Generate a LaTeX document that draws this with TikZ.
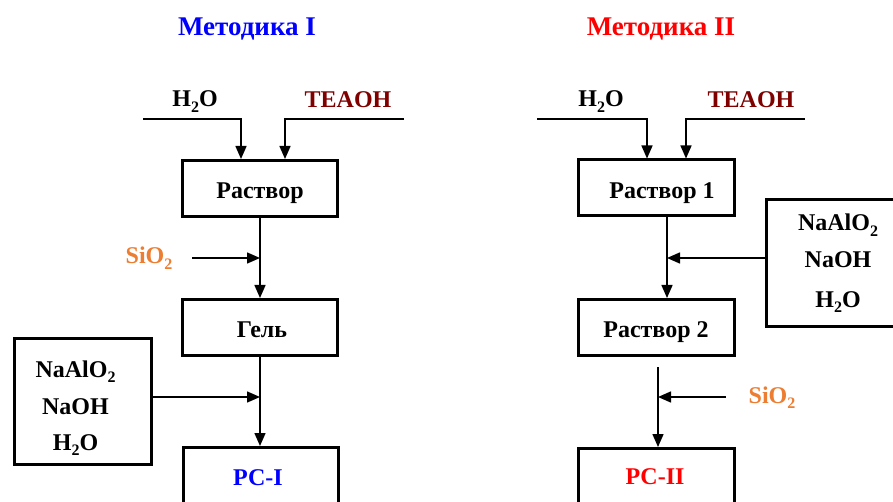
\documentclass[tikz,border=0pt]{standalone}
\usepackage{fontspec}
\setmainfont{Liberation Serif}
\usetikzlibrary{arrows.meta}
\definecolor{mblue}{RGB}{0,0,255}
\definecolor{mred}{RGB}{255,0,0}
\definecolor{mdark}{RGB}{128,0,0}
\definecolor{morange}{RGB}{237,125,49}
\newcommand\low[1]{\raisebox{-0.22em}{\fontsize{16}{16}\selectfont #1}}
\begin{document}
\begin{tikzpicture}[x=1pt,y=-1pt,
  box/.style={draw,line width=3pt,minimum width=155pt,minimum height=56pt,inner sep=0pt},
  sidebox/.style={draw,line width=3pt,inner sep=0pt},
  lbl/.style={font=\fontsize{24}{28}\selectfont\bfseries,anchor=base,inner sep=0pt},
  ttl/.style={font=\fontsize{27}{32}\selectfont\bfseries,anchor=base,inner sep=0pt},
  arr/.style={line width=1.5pt,-{Triangle[length=13pt,width=11pt]}},
  ln/.style={line width=1.5pt}]
\useasboundingbox (0,0) rectangle (893,502);
\fill[white] (0,0) rectangle (893,502);

% titles
\node[ttl,text=mblue] (t1) at (247,36) {Методика I};
\node[ttl,text=mred] (t2) at (661,36) {Методика II};

% ---------- Method I ----------
\node[box] (r) at (260,188.5) {};
\node[lbl] (rl) at (260,199) {Раствор};
\node[box] (g) at (260,327.5) {};
\node[lbl] (gl) at (262,337) {Гель};
\node[box] (pc1) at (261,475.5) {};
\node[lbl,text=mblue] (pc1l) at (258,485) {РС-I};
\node[sidebox,minimum width=137pt,minimum height=126pt] (lb) at (83,401.5) {};
\node[lbl] (lb1) at (75.5,377) {NaAlO\low{2}};
\node[lbl] (lb2) at (75.5,414) {NaOH};
\node[lbl] (lb3) at (75.5,450) {H\low{2}O};

\node[lbl] (h1) at (195,107) {H\low{2}O};
\node[lbl,text=mdark] (te1) at (348,108) {TEAOH};
\node[lbl,text=morange] (si1) at (149,264) {SiO\low{2}};

\coordinate (h1s) at (143,119);
\coordinate (h1c) at (241,119);
\coordinate (te1s) at (404,119);
\coordinate (te1c) at (285,119);
\draw[arr] (h1s) -- (h1c) -- (h1c |- r.north);
\draw[arr] (te1s) -- (te1c) -- (te1c |- r.north);
\draw[arr] (r.south) -- (g.north);
\coordinate (si1s) at (192,258);
\draw[arr] (si1s) -- (si1s -| r.south);
\draw[arr] (g.south) -- (g.south |- pc1.north);
\coordinate (y397) at (0,397);
\draw[arr] (lb.east |- y397) -- (g.south |- y397);

% ---------- Method II ----------
\node[box,minimum width=156pt] (r1) at (656.5,188) {};
\node[lbl] (r1l) at (662,199) {Раствор 1};
\node[box,minimum width=156pt] (r2) at (656.5,327.5) {};
\node[lbl] (r2l) at (656,337) {Раствор 2};
\node[box,minimum width=156pt] (pc2) at (656.5,476.5) {};
\node[lbl,text=mred] (pc2l) at (655,484) {РС-II};
\node[sidebox,minimum width=145pt,minimum height=127pt] (rb) at (839,263) {};
\node[lbl] (rb1) at (838,231) {NaAlO\low{2}};
\node[lbl] (rb2) at (838,268) {NaOH};
\node[lbl] (rb3) at (838,307) {H\low{2}O};

\node[lbl] (h2) at (601,107) {H\low{2}O};
\node[lbl,text=mdark] (te2) at (751,108) {TEAOH};
\node[lbl,text=morange] (si2) at (772,403) {SiO\low{2}};

\coordinate (h2s) at (537,119);
\coordinate (h2c) at (647,119);
\coordinate (te2s) at (805,119);
\coordinate (te2c) at (686,119);
\draw[arr] (h2s) -- (h2c) -- (h2c |- r1.north);
\draw[arr] (te2s) -- (te2c) -- (te2c |- r1.north);
\coordinate (x667) at (667,0);
\draw[arr] (x667 |- r1.south) -- (x667 |- r2.north);
\coordinate (y258) at (0,258);
\draw[arr] (rb.west |- y258) -- (x667 |- y258);
\coordinate (v2s) at (658,367);
\draw[arr] (v2s) -- (v2s |- pc2.north);
\coordinate (si2s) at (726,397);
\draw[arr] (si2s) -- (si2s -| v2s);
\end{tikzpicture}
\end{document}
